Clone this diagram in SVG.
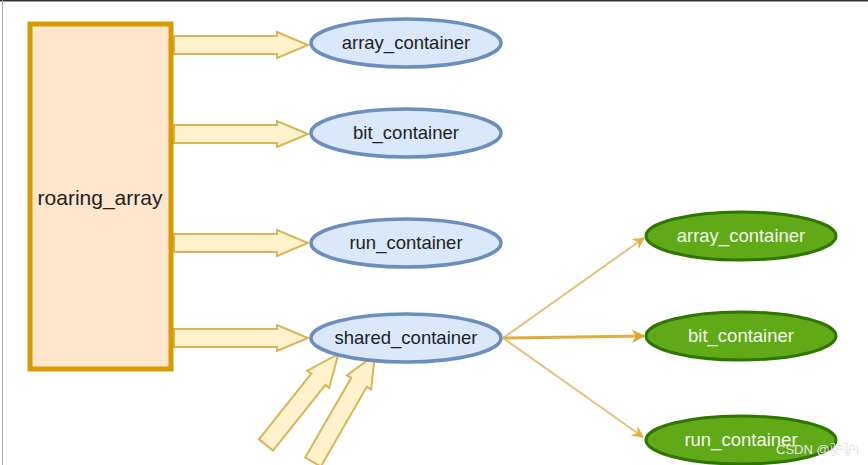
<svg xmlns="http://www.w3.org/2000/svg" width="868" height="465" viewBox="0 0 868 465">
<defs>
<marker id="ah" viewBox="0 0 10 10" refX="9" refY="5" markerWidth="7" markerHeight="6" orient="auto" markerUnits="strokeWidth">
<path d="M0,0 L10,5 L0,10 L3,5 Z" fill="#e0b24a"/>
</marker>
<marker id="ah2" viewBox="0 0 10 10" refX="9" refY="5" markerWidth="5.5" markerHeight="4.5" orient="auto" markerUnits="strokeWidth">
<path d="M0,0 L10,5 L0,10 L3,5 Z" fill="#e0a82e"/>
</marker>
</defs>
<style>
.blk{fill:#fff2cc;stroke:#d6b656;stroke-width:2;stroke-linejoin:miter}
.blue{fill:#dae8fc;stroke:#6c8ebf;stroke-width:3.5}
.green{fill:#60a917;stroke:#2d7600;stroke-width:3}
.t{font-family:"Liberation Sans",Arial,sans-serif;font-size:18.5px;text-anchor:middle}
.tb{fill:#222}
.tw{fill:#f4faef}
.ln{fill:none;stroke:#e3c27a;stroke-width:2}
</style>
<rect x="0" y="0" width="868" height="465" fill="#ffffff"/>
<line x1="0" y1="0.75" x2="868" y2="0.75" stroke="#333" stroke-width="1.5"/>
<line x1="2.5" y1="0" x2="2.5" y2="465" stroke="#aaa" stroke-width="1"/>

<g id="connectors">
<path class="blk" d="M174,36 H277 V32 L308,45 L277,58 V54 H174 Z"/>
<path class="blk" d="M174,125 H277 V121 L308,134 L277,147 V143 H174 Z"/>
<path class="blk" d="M174,234 H277 V230 L308,243 L277,256 V252 H174 Z"/>
<path class="blk" d="M174,329 H277 V325 L308,338 L277,351 V347 H174 Z"/>
<path class="blk" transform="translate(266,445) rotate(-51.5)" d="M0,-9 H84 V-14 L116,0 L84,14 V9 H0 Z"/>
<path class="blk" transform="translate(313,462) rotate(-60)" d="M0,-9 H92 V-14 L124,0 L92,14 V9 H0 Z"/>
<line class="ln" x1="503" y1="338" x2="644" y2="238" marker-end="url(#ah)"/>
<line class="ln" x1="503" y1="338" x2="644" y2="336" marker-end="url(#ah2)" style="stroke:#e0ac3c;stroke-width:3"/>
<line class="ln" x1="503" y1="338" x2="643" y2="437" marker-end="url(#ah)"/>
</g>

<g id="roaring_array">
<rect x="30" y="24" width="141" height="345" fill="#ffe6cc" stroke="#d79b00" stroke-width="5"/>
<text x="100" y="205" font-family="Liberation Sans, Arial, sans-serif" font-size="21" fill="#222" text-anchor="middle">roaring_array</text>
</g>

<g id="array_container">
<ellipse class="blue" cx="406" cy="43" rx="95" ry="24"/>
<text class="t tb" x="406" y="49">array_container</text>
</g>
<g id="bit_container">
<ellipse class="blue" cx="406" cy="133" rx="95" ry="24"/>
<text class="t tb" x="406" y="139">bit_container</text>
</g>
<g id="run_container">
<ellipse class="blue" cx="406" cy="243" rx="95" ry="24"/>
<text class="t tb" x="406" y="249">run_container</text>
</g>
<g id="shared_container">
<ellipse class="blue" cx="406" cy="338" rx="95" ry="24"/>
<text class="t tb" x="406" y="344">shared_container</text>
</g>

<g id="g_array_container">
<ellipse class="green" cx="741" cy="236" rx="95" ry="24"/>
<text class="t tw" x="741" y="242">array_container</text>
</g>
<g id="g_bit_container">
<ellipse class="green" cx="741" cy="336" rx="95" ry="24"/>
<text class="t tw" x="741" y="342">bit_container</text>
</g>
<g id="g_run_container">
<ellipse class="green" cx="741" cy="440" rx="95" ry="24"/>
<text class="t tw" x="741" y="446">run_container</text>
</g>

<text x="776" y="454" font-family="Liberation Sans, 'Noto Sans CJK SC', sans-serif" font-size="13" fill="#e6e6e6">CSDN @驴驴I</text>
</svg>
